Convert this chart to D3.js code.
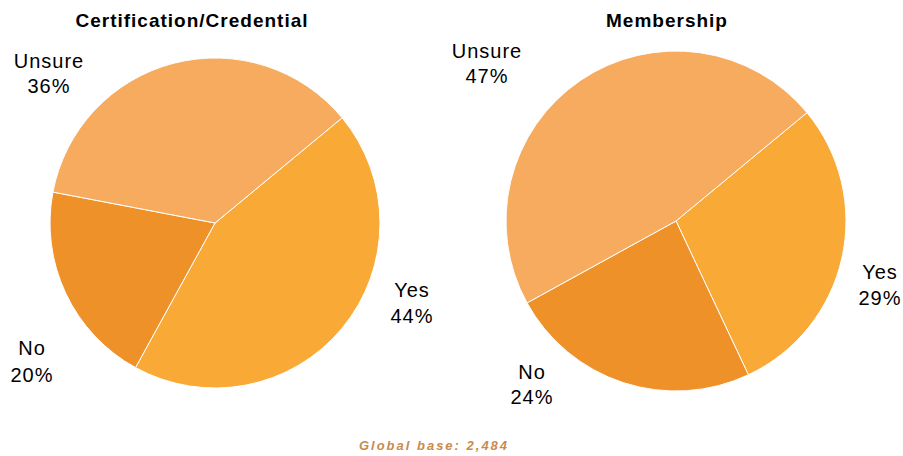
<!DOCTYPE html>
<html><head><meta charset="utf-8">
<script src="https://cdn.jsdelivr.net/npm/d3@7"></script>
<style>body{margin:0;background:#fff}svg{display:block}</style>
</head><body><svg id="c" width="903" height="456"></svg>
<script>
const categories = ["Yes", "No", "Unsure"];
const certValues = [44, 20, 36];
const memberValues = [29, 24, 47];
const titles = ["Certification/Credential", "Membership"];
const footer = "Global base: 2,484";

const colors = d3.scaleOrdinal().domain(categories).range(["#F9A936", "#EE9128", "#F6AB5E"]);
const svg = d3.select("#c");
const FONT = "Liberation Sans, Arial, sans-serif";

const layouts = [
  {cx: 215, cy: 223, r: 165, titleX: 192, labels: {Yes: [412, 297, 26], No: [32, 355, 27], Unsure: [49, 68, 25]}},
  {cx: 676, cy: 221, r: 170, titleX: 667, labels: {Yes: [880, 279, 26], No: [532, 379, 25], Unsure: [487, 58, 25]}}
];
const series = [certValues, memberValues];
const start = 50.4 * Math.PI / 180;

series.forEach((vals, i) => {
  const L = layouts[i];
  const data = categories.map((c, k) => ({cat: c, v: vals[k]}));
  const pie = d3.pie().value(d => d.v).sort(null).startAngle(start).endAngle(start + 2 * Math.PI);
  const arc = d3.arc().innerRadius(0).outerRadius(L.r);
  const g = svg.append("g").attr("transform", `translate(${L.cx},${L.cy})`);
  g.selectAll("path").data(pie(data)).join("path")
    .attr("d", arc).attr("fill", d => colors(d.data.cat))
    .attr("stroke", "#fff").attr("stroke-width", 1);
  svg.append("text").attr("x", L.titleX).attr("y", 27).attr("text-anchor", "middle")
    .attr("font-family", FONT).attr("font-weight", "bold")
    .attr("font-size", 19).attr("letter-spacing", 1).attr("fill", "#000").text(titles[i]);
  data.forEach(d => {
    const p = L.labels[d.cat];
    const t = svg.append("text").attr("text-anchor", "middle")
      .attr("font-family", FONT).attr("font-size", 20).attr("letter-spacing", 1).attr("fill", "#000");
    t.append("tspan").attr("x", p[0]).attr("y", p[1]).text(d.cat);
    t.append("tspan").attr("x", p[0]).attr("y", p[1] + p[2]).text(d.v + "%");
  });
});

svg.append("text").attr("x", 434).attr("y", 450).attr("text-anchor", "middle")
  .attr("font-family", FONT).attr("font-style", "italic")
  .attr("font-weight", "bold").attr("font-size", 13).attr("letter-spacing", 2)
  .attr("fill", "#C98B4C").text(footer);
</script></body></html>
